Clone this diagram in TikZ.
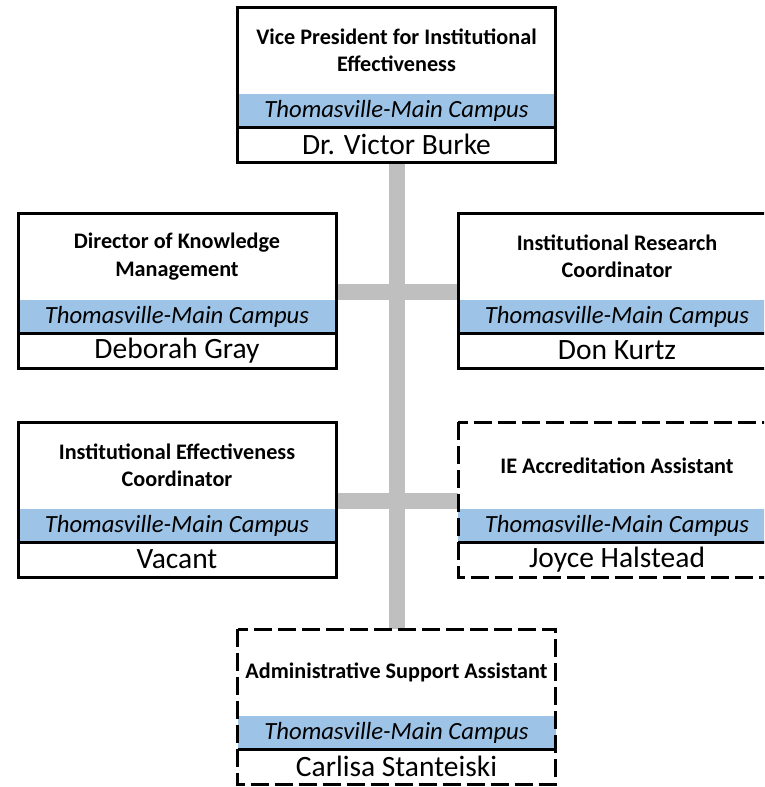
\documentclass[tikz,border=0pt]{standalone}
\usepackage{fontspec}
\setmainfont{Carlito}
\usetikzlibrary{positioning,backgrounds}

\definecolor{campusblue}{RGB}{157,195,230}
\definecolor{linkgray}{RGB}{191,191,191}

\tikzset{
    box/.style={minimum width=318pt, inner sep=0pt, outer sep=0pt, align=flush center},
    title/.style={box, minimum height=87pt, text width=316pt,
        font=\bfseries\fontsize{22.2pt}{27.5pt}\selectfont},
    campus/.style={box, minimum height=33pt, fill=campusblue,
        font=\itshape\fontsize{24.7pt}{28pt}\selectfont},
    person/.style={box, minimum height=35pt,
        font=\fontsize{29.5pt}{32pt}\selectfont},
    solidframe/.style={line width=3pt},
    dashframe/.style={line width=3pt, dash pattern=on 18pt off 6pt},
    link/.style={draw=linkgray, line width=16pt},
}

\begin{document}
\begin{tikzpicture}[x=1pt, y=-1pt]
    \path[use as bounding box, clip] (0,0) rectangle (764,787);
    % Draw the boxes: title, campus band, person
    \foreach \id/\x/\y/\frame/\job/\who in {
        vp/396.5/50.5/solidframe/{Vice President for Institutional\\Effectiveness}/{Dr. Victor Burke},
        dkm/177/256.5/solidframe/{Director of Knowledge\\Management}/{Deborah Gray},
        irc/617/256.5/solidframe/{Institutional Research\\Coordinator}/{Don Kurtz},
        iec/177/465.5/solidframe/{Institutional Effectiveness\\Coordinator}/{Vacant},
        iea/617/465.5/dashframe/{IE Accreditation Assistant}/{Joyce Halstead},
        asa/396.5/672.5/dashframe/{Administrative Support Assistant}/{Carlisa Stanteiski}} {
        \node[title] (\id) at (\x,\y) {\job};
        \node[campus, below=0pt of \id] (\id-c) {Thomasville-Main Campus};
        \node[person, below=0pt of \id-c] (\id-p) {\who};
        \draw[\frame] (\id.north west) rectangle (\id-p.south east);
        \draw[solidframe] (\id-c.south west) -- (\id-c.south east);
    }

    % Draw the links behind the boxes
    \begin{scope}[on background layer]
        \draw[link] (vp-p.south) -- (asa.north);
        \draw[link] ([yshift=8.5pt]dkm.south east) -- ([yshift=8.5pt]irc.south west);
        \draw[link] ([yshift=8.5pt]iec.south east) -- ([yshift=8.5pt]iea.south west);
    \end{scope}
\end{tikzpicture}
\end{document}
